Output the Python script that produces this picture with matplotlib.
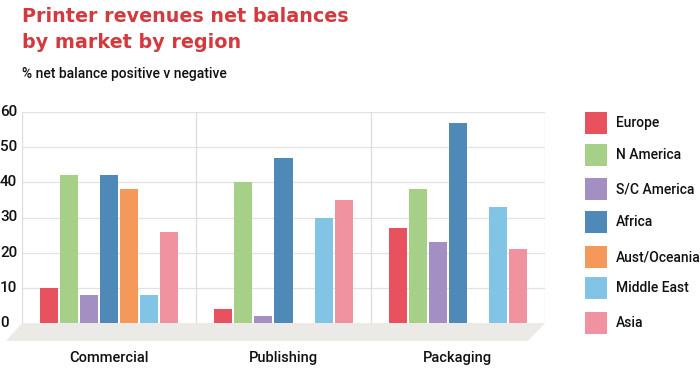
import numpy as np
import matplotlib.pyplot as plt
from matplotlib.patches import Polygon, Rectangle

markets = ["Commercial", "Publishing", "Packaging"]
regions = ["Europe", "N America", "S/C America", "Africa",
           "Aust/Oceania", "Middle East", "Asia"]
colors = ["#E8525E", "#A6CF88", "#A48FC2", "#4F89B8",
          "#F4995A", "#82C4E6", "#F0929F"]

# one list per region, values per market (None = no bar)
europe = [10, 4, 27]
n_america = [42, 40, 38]
sc_america = [8, 2, 23]
africa = [42, 47, 57]
aust_oceania = [38, None, None]
middle_east = [8, 30, 33]
asia = [26, 35, 21]
series = [europe, n_america, sc_america, africa, aust_oceania, middle_east, asia]

yticks = [0, 10, 20, 30, 40, 50, 60]

narrow = ['Roboto', 'DejaVu Sans']
plt.rcParams['font.family'] = narrow

W, H = 700, 377
fig = plt.figure(figsize=(7, 3.77), dpi=100)


def fx(px):
    return px / W


def fy(py):
    return 1 - py / H


ax = fig.add_axes([fx(22), fy(323), fx(545) - fx(22), fy(112) - fy(323)])
ax.set_xlim(0, 3)
ax.set_ylim(0, 60)

# grid
for t in yticks[1:]:
    ax.axhline(t, color="#E2E2E2", lw=0.9, zorder=0)
for g in range(4):
    ax.axvline(g, color="#DCDCDC", lw=0.9, zorder=0)

step = 20 / 174.3
width = 18 / 174.3
for i, vals in enumerate(series):
    for g, v in enumerate(vals):
        if v is None:
            continue
        x = g + 0.5 + (i - 3) * step
        ax.bar(x, v, width=width, color=colors[i], zorder=2)

for s in ax.spines.values():
    s.set_visible(False)
ax.set_xticks([])
ax.set_yticks([])

# floor platform
floor = Polygon([(fx(22), fy(323)), (fx(545), fy(323)),
                 (fx(528), fy(341)), (fx(6), fy(341))],
                closed=True, transform=fig.transFigure,
                facecolor="#ECEAE7", edgecolor="none", zorder=1)
fig.patches.append(floor)

# y tick labels
for t in yticks:
    yp = 323 - t * (211 / 60)
    fig.text(fx(0), fy(yp), str(t), fontsize=11, ha="left", va="center",
             color="#111111", fontweight="medium")

# category labels
for g, m in enumerate(markets):
    xc = 22 + 174.3 * (g + 0.5)
    fig.text(fx(xc), fy(358), m, fontsize=10.5, ha="center", va="center",
             color="#111111", fontweight="medium")

# legend
leg_y = [123, 155, 189, 222, 257, 288, 323]
for name, c, yp in zip(regions, colors, leg_y):
    fig.patches.append(Rectangle((fx(585), fy(yp + 11)), fx(22), 22 / H,
                                 transform=fig.transFigure, facecolor=c,
                                 edgecolor="none"))
    fig.text(fx(616), fy(yp), name, fontsize=10, ha="left", va="center",
             color="#111111", fontweight="medium")

# titles
fig.text(fx(22), fy(16), "Printer revenues net balances", fontsize=13.8,
         fontweight="bold", color="#D4393E", ha="left", va="center",
         family=['DejaVu Sans'])
fig.text(fx(22), fy(42), "by market by region", fontsize=13.8,
         fontweight="bold", color="#D4393E", ha="left", va="center",
         family=['DejaVu Sans'])
fig.text(fx(22), fy(74), "% net balance positive v negative", fontsize=10,
         color="#111111", ha="left", va="center", fontweight="medium")

fig.savefig("out.png", dpi=100)
